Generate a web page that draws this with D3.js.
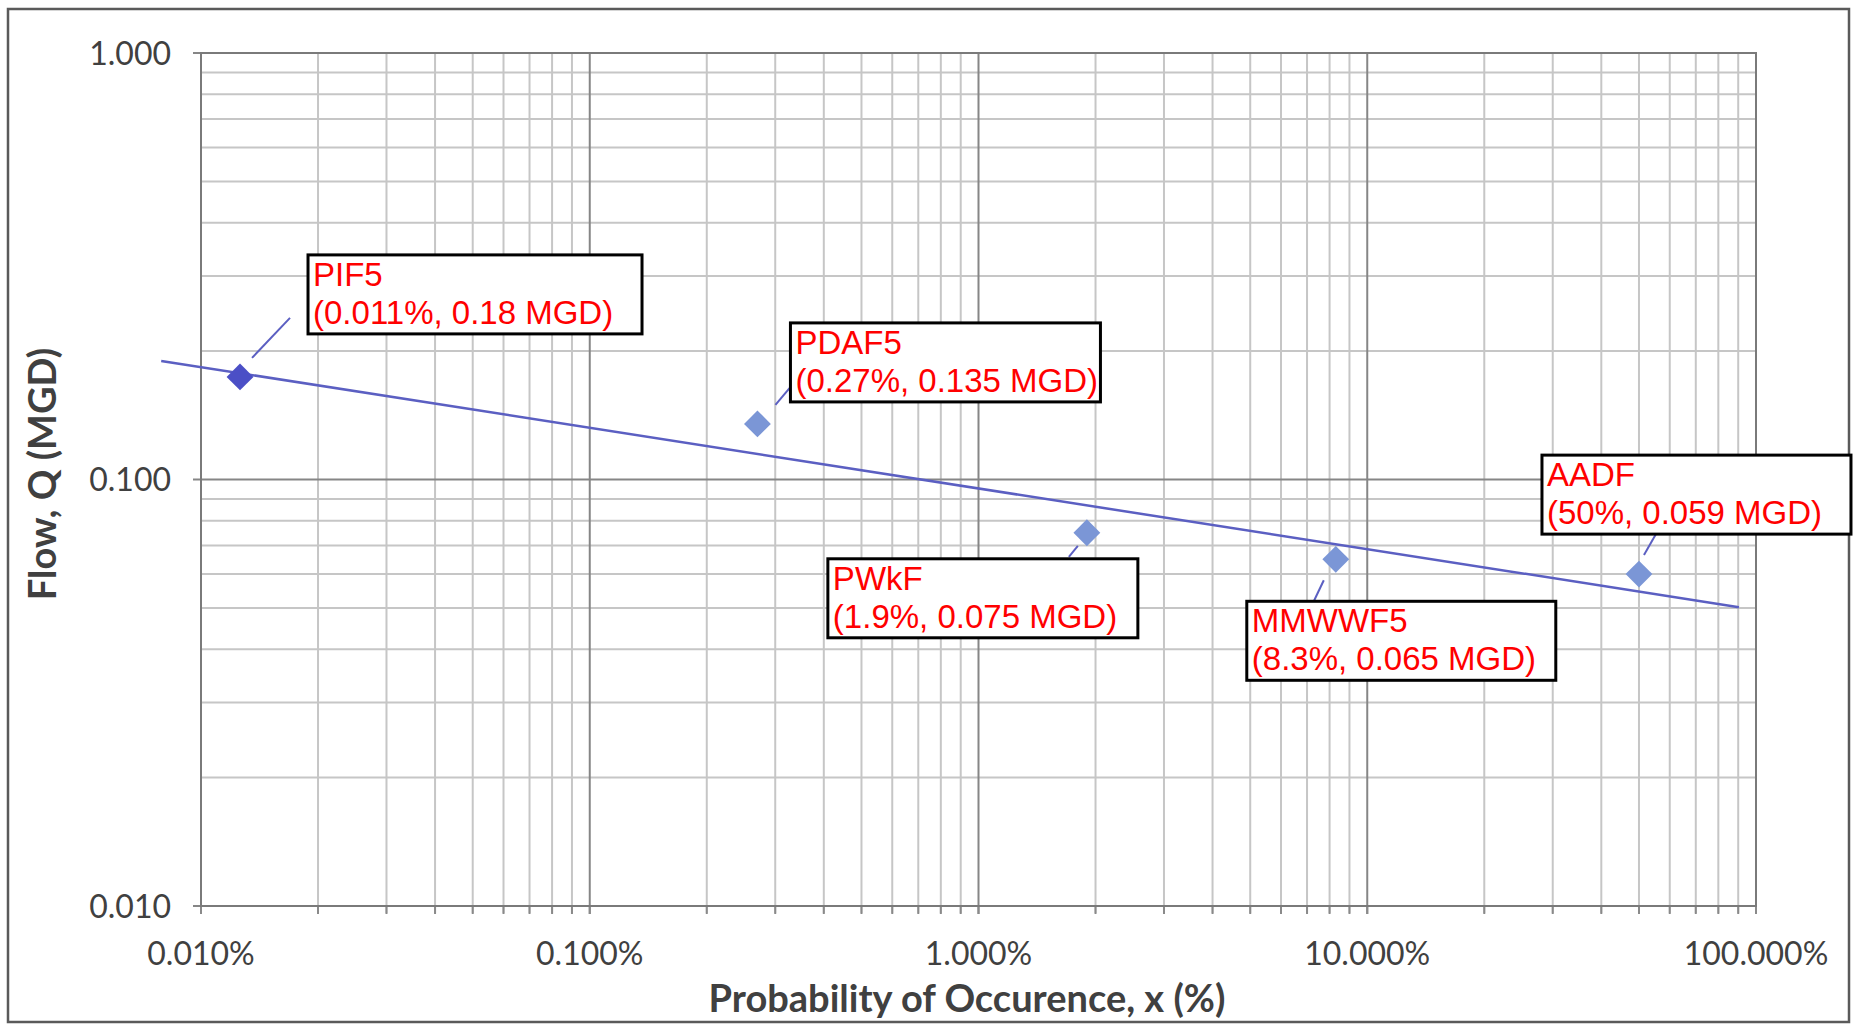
<!DOCTYPE html>
<html lang="en">
<head>
  <meta charset="UTF-8">
  <title>Flow vs Probability of Occurence</title>
  <script src="https://d3js.org/d3.v7.min.js"></script>
  <style>
    body {
      margin: 0;
      background: #ffffff;
    }

    .tick-label {
      fill: #404040;
      font-family: "Lato", sans-serif;
      font-size: 32px;
    }

    .axis-title {
      fill: #404040;
      font-family: "Lato", sans-serif;
      font-weight: bold;
      font-size: 38px;
    }

    .grid-minor {
      stroke: #c6c6c6;
      stroke-width: 2;
    }

    .grid-major {
      stroke: #868686;
      stroke-width: 2;
    }

    .callout-box {
      fill: #ffffff;
      stroke: #000000;
      stroke-width: 3;
    }

    .callout-text {
      fill: #ff0000;
      font-family: "Liberation Sans", Arial, sans-serif;
      font-size: 33px;
    }
  </style>
</head>
<body>
  <script>
    // data
    const pointNames = ["PIF5", "PDAF5", "PWkF", "MMWWF5", "AADF"];
    const pointLabels = ["(0.011%, 0.18 MGD)", "(0.27%, 0.135 MGD)", "(1.9%, 0.075 MGD)",
      "(8.3%, 0.065 MGD)", "(50%, 0.059 MGD)"];
    const probability = [0.0126, 0.27, 1.9, 8.3, 50];   // x, %
    const flow = [0.174, 0.135, 0.075, 0.065, 0.060];   // y, MGD

    // power trendline end points (x %, y MGD)
    const trendX = [0.0079, 90.4];
    const trendY = [0.1897, 0.0502];

    const xTickValues = [0.01, 0.1, 1, 10, 100];
    const xTickLabels = ["0.010%", "0.100%", "1.000%", "10.000%", "100.000%"];
    const yTickValues = [0.01, 0.1, 1];
    const yTickLabels = ["0.010", "0.100", "1.000"];

    // callout layout (pixel offsets from the marker)
    const callouts = [
      {dx: 68, dy: -122, w: 334, lead: [12, -19, 50, -59]},
      {dx: 33, dy: -101, w: 310, lead: [18, -19, 34, -38]},
      {dx: -259, dy: 26, w: 310, lead: [-18, 24, -9, 13]},
      {dx: -89, dy: 42, w: 309, lead: [-22, 42, -12, 21]},
      {dx: -97, dy: -119, w: 309, lead: [5, -19, 17, -40]}
    ];

    const W = 1854, H = 1024;
    const plot = {left: 201, right: 1756, top: 53, bottom: 906};

    const svg = d3.select("body").append("svg")
      .attr("width", W)
      .attr("height", H);

    svg.append("rect")
      .attr("x", 8).attr("y", 9)
      .attr("width", 1841).attr("height", 1013)
      .attr("fill", "#fff")
      .attr("stroke", "#5a5a5a")
      .attr("stroke-width", 2.5);

    const x = d3.scaleLog().domain([0.01, 100]).range([plot.left, plot.right]);
    const y = d3.scaleLog().domain([0.01, 1]).range([plot.bottom, plot.top]);

    // minor / major values for each decade
    const xAll = x.ticks(); // 0.01,0.02,...,100
    const yAll = y.ticks();
    const isMajor = v => Math.abs(Math.log10(v) - Math.round(Math.log10(v))) < 1e-9;

    const grid = svg.append("g");

    grid.selectAll(".vx")
      .data(xAll.filter(v => !isMajor(v)))
      .enter().append("line")
      .attr("class", "grid-minor")
      .attr("x1", d => x(d)).attr("x2", d => x(d))
      .attr("y1", plot.top).attr("y2", plot.bottom + 7);

    grid.selectAll(".hy")
      .data(yAll.filter(v => !isMajor(v)))
      .enter().append("line")
      .attr("class", "grid-minor")
      .attr("x1", plot.left).attr("x2", plot.right)
      .attr("y1", d => y(d)).attr("y2", d => y(d));

    grid.selectAll(".vxm")
      .data(xAll.filter(isMajor))
      .enter().append("line")
      .attr("class", "grid-major")
      .attr("x1", d => x(d)).attr("x2", d => x(d))
      .attr("y1", plot.top).attr("y2", plot.bottom + 8);

    grid.selectAll(".hym")
      .data(yAll.filter(isMajor))
      .enter().append("line")
      .attr("class", "grid-major")
      .attr("x1", plot.left - 8).attr("x2", plot.right)
      .attr("y1", d => y(d)).attr("y2", d => y(d));

    // x-axis ticks below the plot
    grid.selectAll(".xt")
      .data(xAll)
      .enter().append("line")
      .attr("stroke", "#8a8a8a")
      .attr("stroke-width", 2)
      .attr("x1", d => x(d)).attr("x2", d => x(d))
      .attr("y1", plot.bottom).attr("y2", plot.bottom + 8);

    svg.append("rect")
      .attr("x", plot.left).attr("y", plot.top)
      .attr("width", plot.right - plot.left)
      .attr("height", plot.bottom - plot.top)
      .attr("fill", "none")
      .attr("stroke", "#7a7a7a")
      .attr("stroke-width", 2);

    // tick labels
    svg.selectAll(".ylab")
      .data(yTickValues)
      .enter().append("text")
      .attr("class", "tick-label")
      .attr("x", 171)
      .attr("y", d => y(d))
      .attr("dy", "0.36em")
      .attr("text-anchor", "end")
      .text((d, i) => yTickLabels[i]);

    svg.selectAll(".xlab")
      .data(xTickValues)
      .enter().append("text")
      .attr("class", "tick-label")
      .attr("x", d => x(d))
      .attr("y", 965)
      .attr("text-anchor", "middle")
      .text((d, i) => xTickLabels[i]);

    svg.append("text")
      .attr("class", "axis-title")
      .attr("x", 967)
      .attr("y", 1012)
      .attr("text-anchor", "middle")
      .text("Probability of Occurence, x (%)");

    svg.append("text")
      .attr("class", "axis-title")
      .attr("transform", "translate(56,474) rotate(-90)")
      .attr("text-anchor", "middle")
      .text("Flow, Q (MGD)");

    // trendline
    svg.append("path")
      .datum(d3.zip(trendX, trendY))
      .attr("fill", "none")
      .attr("stroke", "#5b5fc2")
      .attr("stroke-width", 2.5)
      .attr("d", d3.line().x(d => x(d[0])).y(d => y(d[1])));

    const points = pointNames.map((name, i) => ({
      name: name, label: pointLabels[i], px: probability[i], q: flow[i], c: callouts[i]
    }));

    // leader lines
    svg.selectAll(".lead")
      .data(points)
      .enter().append("line")
      .attr("stroke", "#5b5fc2")
      .attr("stroke-width", 2)
      .attr("x1", d => x(d.px) + d.c.lead[0])
      .attr("y1", d => y(d.q) + d.c.lead[1])
      .attr("x2", d => x(d.px) + d.c.lead[2])
      .attr("y2", d => y(d.q) + d.c.lead[3]);

    // diamond markers
    svg.selectAll(".pt")
      .data(points)
      .enter().append("path")
      .attr("d", d3.symbol(d3.symbolSquare, 360))
      .attr("transform", d => "translate(" + x(d.px) + "," + y(d.q) + ") rotate(45)")
      .attr("fill", (d, i) => i === 0 ? "#4b4fc6" : "#7b96d6");

    // callouts
    const co = svg.selectAll(".callout")
      .data(points)
      .enter().append("g")
      .attr("transform", d => "translate(" + (x(d.px) + d.c.dx) + "," + (y(d.q) + d.c.dy) + ")");

    co.append("rect")
      .attr("class", "callout-box")
      .attr("width", d => d.c.w)
      .attr("height", 79);

    co.append("text")
      .attr("class", "callout-text")
      .attr("x", 5)
      .attr("y", 31)
      .text(d => d.name);

    co.append("text")
      .attr("class", "callout-text")
      .attr("x", 5)
      .attr("y", 69)
      .text(d => d.label);
  </script>
</body>
</html>
